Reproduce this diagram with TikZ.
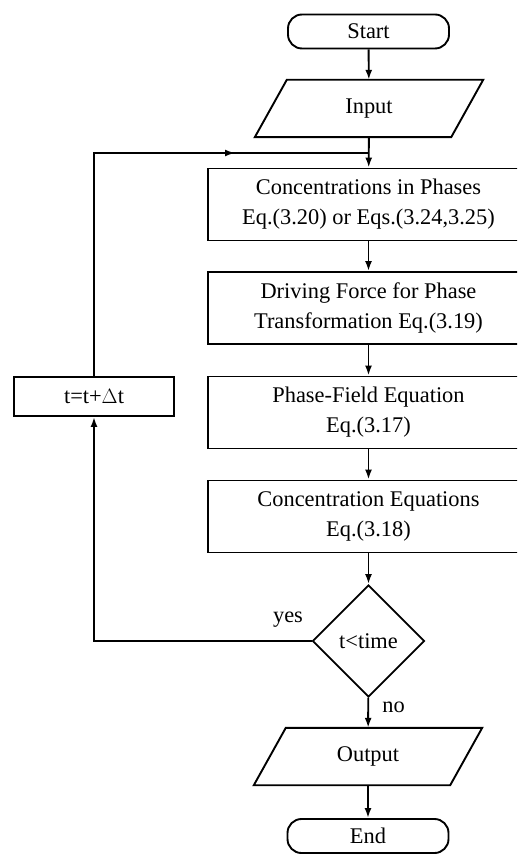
\documentclass[tikz,border=0pt]{standalone}
\usepackage{fontspec}
\setmainfont{Liberation Serif}
\usetikzlibrary{shapes.geometric,arrows.meta,calc}
\begin{document}
\begin{tikzpicture}[x=1pt,y=-1pt,
  every node/.style={font=\fontsize{22.4}{30}\selectfont},
  ln/.style={line width=1.9pt},
  arr/.style={ln,-{Latex[length=10pt,width=7pt]}},
  procbox/.style={draw,ln,rectangle,minimum width=321pt,minimum height=72pt,align=center,inner sep=0pt},
  termbox/.style={draw,ln,rectangle,rounded corners=14pt,minimum width=161pt,minimum height=34pt,inner sep=0pt},
  iobox/.style={rectangle,minimum width=196pt,minimum height=57pt,inner sep=0pt},
  decbox/.style={draw,ln,diamond,aspect=1,minimum width=112pt,minimum height=112pt,inner sep=0pt},
  smallbox/.style={draw,ln,rectangle,minimum width=160pt,minimum height=39pt,inner sep=0pt}]
\useasboundingbox (0,0) rectangle (517,858);
\clip (0,0) rectangle (517,858);
\node[termbox] (start) at (368.5,31.5) {Start};
\node[iobox] (input) at (369,108.5) {Input};
\draw[ln] ($(input.north west)+(16,0)$) -- ($(input.north east)+(16,0)$) -- ($(input.south east)+(-16,0)$) -- ($(input.south west)+(-16,0)$) -- cycle;
\node[procbox] (b1) at (368.5,204.5) {Concentrations in Phases\\Eq.(3.20) or Eqs.(3.24,3.25)};
\node[procbox] (b2) at (368.5,308) {Driving Force for Phase\\Transformation Eq.(3.19)};
\node[procbox] (b3) at (368.5,412.5) {Phase-Field Equation\\Eq.(3.17)};
\node[procbox] (b4) at (368.5,516.5) {Concentration Equations\\Eq.(3.18)};
\node[decbox] (dec) at (368.5,641) {t<time};
\node[iobox] (out) at (368,756.5) {Output};
\draw[ln] ($(out.north west)+(16,0)$) -- ($(out.north east)+(16,0)$) -- ($(out.south east)+(-16,0)$) -- ($(out.south west)+(-16,0)$) -- cycle;
\node[termbox] (end) at (368,836) {End};
\node[smallbox] (tb) at (94,396.5) {t=t+$\Delta$t};
\node (yes) at (288,620) {yes};
\node (no) at (393.5,707) {no};
\coordinate (join) at (368.5,153);
\coordinate (corner) at (94,153);
\coordinate (mid) at (235,153);
\draw[arr] (start) -- (input);
\draw[arr] (input) -- (b1);
\draw[arr] (b1) -- (b2);
\draw[arr] (b2) -- (b3);
\draw[arr] (b3) -- (b4);
\draw[arr] (b4) -- (dec);
\draw[arr] (dec) -- (out);
\draw[arr] (out) -- (end);
\draw[arr] (dec.west) -| (tb.south);
\draw[ln] (tb.north) -- (corner) -- (join);
\draw[arr] (corner) -- (mid);
\end{tikzpicture}
\end{document}
